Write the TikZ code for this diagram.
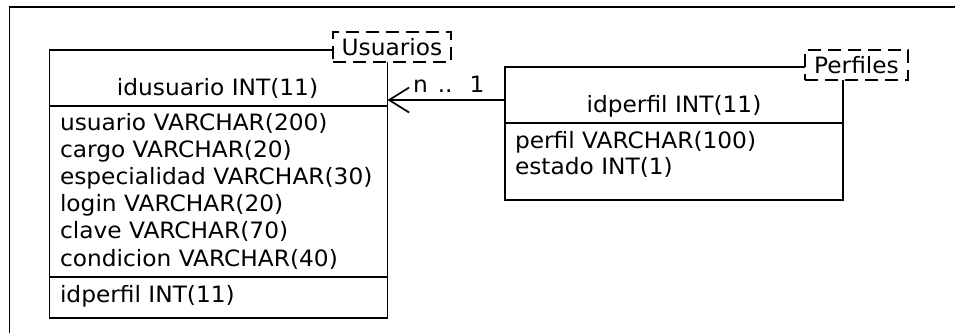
\documentclass[tikz,border=0pt]{standalone}
\usepackage{fontspec}
\setmainfont{DejaVu Sans}[FakeStretch=1.035]
\usetikzlibrary{calc,arrows.meta}
\begin{document}
\begin{tikzpicture}[x=1pt,y=-1pt,line width=1.7pt,
  table/.style={draw,anchor=north west,inner sep=0pt,outer sep=0pt,minimum width=338pt},
  tab/.style={draw,fill=white,dash pattern=on 13pt off 7pt,anchor=north west,
    inner sep=0pt,outer sep=0pt,minimum height=30pt,font=\fontsize{22.5}{27}\selectfont},
  txt/.style={font=\fontsize{22.5}{27}\selectfont,inner sep=0pt,outer sep=0pt},
  field/.style={txt,anchor=base west},
  header/.style={txt,anchor=base}]
\useasboundingbox (0,0) rectangle (955,333);

% frame
\draw (9.5,333) -- (9.5,7) -- (955,7);

% table Usuarios
\node[table,minimum height=268pt] (usu) at (49.5,50) {};
\draw ($(usu.north west)+(0,56)$) -- ($(usu.north east)+(0,56)$);
\draw ($(usu.north west)+(0,227)$) -- ($(usu.north east)+(0,227)$);
\node[header] (usuh) at ($(usu.north)+(-1,45)$) {idusuario INT(11)};
\foreach \f [count=\i from 0] in {usuario VARCHAR(200),cargo VARCHAR(20),
    especialidad VARCHAR(30),login VARCHAR(20),clave VARCHAR(70),condicion VARCHAR(40)}
  \node[field] (usuf\i) at (60,130+27.2*\i) {\f};
\node[field] (usufk) at (60,302) {idperfil INT(11)};
\node[tab,minimum width=118pt] (usutab) at (333,32) {Usuarios};

% table Perfiles
\node[table,minimum height=133pt] (per) at (505,67) {};
\draw ($(per.north west)+(0,56)$) -- ($(per.north east)+(0,56)$);
\node[header] (perh) at ($(per.north)+(0,45)$) {idperfil INT(11)};
\node[field] (perf0) at (515,148) {perfil VARCHAR(100)};
\node[field] (perf1) at (515,174) {estado INT(1)};
\node[tab,minimum width=103pt] (pertab) at (805,50) {Perfiles};

% relationship
\coordinate (relstart) at ($(per.north west)+(0,33)$);
\coordinate (relend) at (usu.east |- relstart);
\draw[-{Straight Barb[length=20pt,width=25pt,line width=1.7pt]}] (relstart) -- (relend);
\node[field] (card) at (413,92) {n\hspace{10pt}..\hspace{17pt}1};
\end{tikzpicture}
\end{document}
